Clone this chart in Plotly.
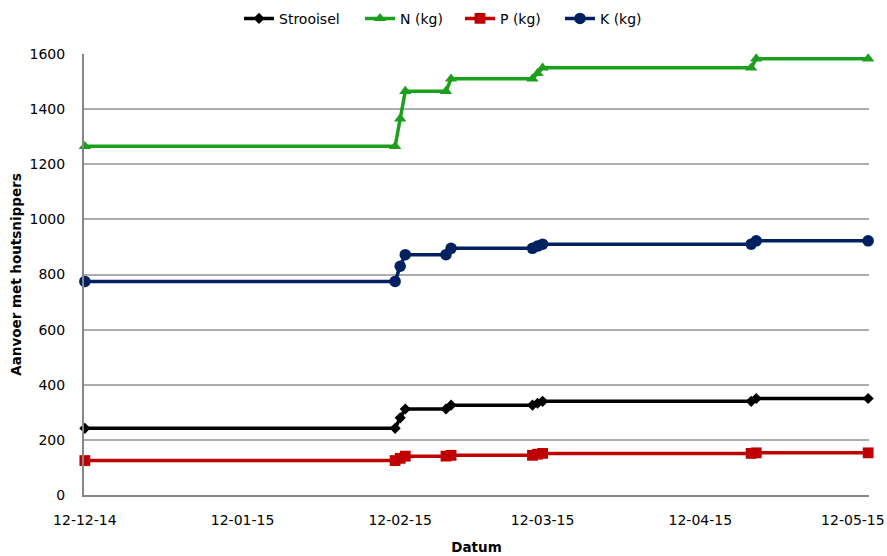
import plotly.graph_objects as go

# Meetmomenten (datum van aanvoer)
datum = [
    "2014-12-12", "2015-02-11", "2015-02-12", "2015-02-13",
    "2015-02-21", "2015-02-22", "2015-03-10", "2015-03-11",
    "2015-03-12", "2015-04-22", "2015-04-23", "2015-05-15",
]

# Cumulatieve aanvoer per reeks
strooisel = [242, 242, 280, 312, 312, 326, 326, 333, 340, 340, 350, 350]
stikstof = [1265, 1265, 1365, 1465, 1465, 1510, 1510, 1530, 1550, 1550, 1583, 1583]
fosfor = [125, 125, 133, 141, 141, 144, 144, 148, 151, 151, 153, 153]
kalium = [775, 775, 830, 872, 872, 895, 895, 903, 910, 910, 922, 922]

tick_datums = ["2014-12-12", "2015-01-12", "2015-02-12",
               "2015-03-12", "2015-04-12", "2015-05-12"]
tick_labels = ["12-12-14", "12-01-15", "12-02-15", "12-03-15", "12-04-15", "12-05-15"]

W, H = 887, 556

# naam, waarden, kleur, symbool, grootte, linkerrand legenda-item (px)
series = [
    ("Strooisel", strooisel, "#000000", "diamond", 8.6, 239),
    ("N (kg)", stikstof, "#1C9F1C", "triangle-up", 10.8, 360),
    ("P (kg)", fosfor, "#C00000", "square", 10.8, 460),
    ("K (kg)", kalium, "#002060", "circle", 11.5, 560),
]

font_family = "DejaVu Sans"
fig = go.Figure()
legend_layouts = {}
for i, (naam, waarden, kleur, symbool, grootte, lx) in enumerate(series):
    legend_id = "legend" if i == 0 else f"legend{i + 1}"
    fig.add_trace(go.Scatter(
        x=datum, y=waarden, name=naam, mode="lines+markers",
        line=dict(color=kleur, width=3.5),
        marker=dict(symbol=symbool, size=grootte, color=kleur, line=dict(width=0)),
        cliponaxis=False, legend=legend_id,
    ))
    legend_layouts[legend_id] = dict(
        orientation="h", xref="container", x=lx / W, xanchor="left",
        yref="container", y=0.995, yanchor="top",
        font=dict(size=14), bgcolor="rgba(0,0,0,0)", borderwidth=0,
    )

fig.update_layout(
    width=W, height=H,
    margin=dict(l=84, r=18, t=54, b=61),
    paper_bgcolor="white", plot_bgcolor="white",
    font=dict(family=font_family, size=14, color="#000000"),
    showlegend=True,
    **legend_layouts,
)
fig.update_xaxes(
    type="date", automargin=False,
    range=["2014-12-11 20:00", "2015-05-15 04:00"],
    tickvals=tick_datums, ticktext=tick_labels,
    showgrid=False, zeroline=False,
    showline=True, linecolor="#868686", linewidth=2,
    ticks="", ticklabelstandoff=11,
    title=dict(text="<b>Datum</b>", font=dict(size=13.5), standoff=16),
)
fig.update_yaxes(
    range=[0, 1600], dtick=200, tick0=0, automargin=False,
    showgrid=True, gridcolor="#ADADAD", gridwidth=1.5,
    zeroline=False,
    showline=True, linecolor="#868686", linewidth=2,
    ticks="", ticklabelstandoff=14,
    title=dict(text="<b>Aanvoer met houtsnippers</b>", font=dict(size=13.5), standoff=5),
)

fig.write_html("out.html")
